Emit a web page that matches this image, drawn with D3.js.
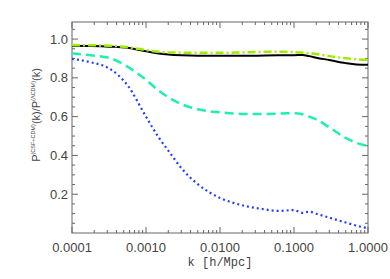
<!DOCTYPE html>
<style>
body { margin: 0; background: #fff; }
</style>
<svg width="390" height="279"></svg>
<script src="https://d3js.org/d3.v7.min.js"></script>
<script>

// k [h/Mpc] sample points shared by all curves
var kGrid = [1e-4, 1.8e-4, 3.2e-4, 5.6e-4, 1e-3, 1.5e-3, 2e-3, 3e-3, 5e-3, 1e-2, 2e-2, 4e-2,
             6e-2, 0.08, 0.1, 0.13, 0.16, 0.2, 0.3, 0.5, 0.7, 1.0];

var ratioSolid   = [0.965, 0.964, 0.961, 0.955, 0.937, 0.925, 0.920, 0.916, 0.914, 0.914, 0.914, 0.915,
                    0.916, 0.917, 0.917, 0.918, 0.912, 0.904, 0.892, 0.876, 0.869, 0.867];
var ratioDashDot = [0.969, 0.968, 0.966, 0.958, 0.943, 0.934, 0.931, 0.930, 0.929, 0.929, 0.931, 0.934,
                    0.934, 0.934, 0.933, 0.930, 0.927, 0.923, 0.912, 0.901, 0.896, 0.893];
var ratioDashed  = [0.926, 0.916, 0.903, 0.858, 0.790, 0.733, 0.700, 0.665, 0.638, 0.622, 0.614, 0.614,
                    0.615, 0.617, 0.617, 0.612, 0.600, 0.586, 0.545, 0.490, 0.465, 0.448];
var ratioDotted  = [0.898, 0.880, 0.848, 0.763, 0.600, 0.490, 0.425, 0.335, 0.252, 0.181, 0.143, 0.122,
                    0.114, 0.116, 0.118, 0.104, 0.110, 0.099, 0.079, 0.054, 0.038, 0.024];

var xTicks = [0.0001, 0.001, 0.01, 0.1, 1];
var yTicks = [0.2, 0.4, 0.6, 0.8, 1.0];

var svg = d3.select("svg"),
    margin = {top: 22, right: 22, bottom: 46, left: 72},
    width = +svg.attr("width") - margin.left - margin.right,
    height = +svg.attr("height") - margin.top - margin.bottom,
    g = svg.append("g").attr("transform", "translate(" + margin.left + "," + margin.top + ")");

var x = d3.scaleLog().domain([1e-4, 1]).range([0, width]);
var y = d3.scaleLinear().domain([0, 1.088]).range([height, 0]);

var axisColor = "#666";

// frame
g.append("rect")
    .attr("width", width)
    .attr("height", height)
    .attr("fill", "none")
    .attr("stroke", axisColor)
    .attr("stroke-width", 1);

// x ticks, bottom and top
var xMinor = [];
for (var e = -4; e < 0; e++)
  for (var m = 2; m <= 9; m++) xMinor.push(m * Math.pow(10, e));

[0, height].forEach(function(y0, side) {
  var dir = side === 0 ? 1 : -1;
  g.append("g").selectAll("line").data(xTicks).enter().append("line")
      .attr("x1", function(d) { return x(d); }).attr("x2", function(d) { return x(d); })
      .attr("y1", y0).attr("y2", y0 + dir * 6)
      .attr("stroke", axisColor);
  g.append("g").selectAll("line").data(xMinor).enter().append("line")
      .attr("x1", function(d) { return x(d); }).attr("x2", function(d) { return x(d); })
      .attr("y1", y0).attr("y2", y0 + dir * 3)
      .attr("stroke", axisColor);
});

// y ticks, left and right
var yMinor = d3.range(0.05, 1.08, 0.05).filter(function(v) { return Math.abs(v / 0.2 - Math.round(v / 0.2)) > 0.01; });

[0, width].forEach(function(x0, side) {
  var dir = side === 0 ? 1 : -1;
  g.append("g").selectAll("line").data(yTicks).enter().append("line")
      .attr("y1", function(d) { return y(d); }).attr("y2", function(d) { return y(d); })
      .attr("x1", x0).attr("x2", x0 + dir * 6)
      .attr("stroke", axisColor);
  g.append("g").selectAll("line").data(yMinor).enter().append("line")
      .attr("y1", function(d) { return y(d); }).attr("y2", function(d) { return y(d); })
      .attr("x1", x0).attr("x2", x0 + dir * 3)
      .attr("stroke", axisColor);
});

// tick labels
g.append("g")
    .attr("font-family", "Liberation Sans, Arial, sans-serif")
    .attr("font-size", 13)
    .attr("fill", "#444")
    .attr("text-anchor", "middle")
  .selectAll("text").data(xTicks).enter().append("text")
    .attr("x", function(d) { return x(d); })
    .attr("y", height + 19)
    .text(function(d) { return d3.format(".4f")(d); });

g.append("g")
    .attr("font-family", "Liberation Sans, Arial, sans-serif")
    .attr("font-size", 13)
    .attr("fill", "#444")
    .attr("text-anchor", "end")
  .selectAll("text").data(yTicks).enter().append("text")
    .attr("x", -4)
    .attr("y", function(d) { return y(d); })
    .attr("dy", "0.35em")
    .text(function(d) { return d3.format(".1f")(d); });

// axis titles
g.append("text")
    .attr("x", width / 2)
    .attr("y", height + 33)
    .attr("text-anchor", "middle")
    .attr("font-family", "Liberation Mono, monospace")
    .attr("font-size", 12)
    .attr("fill", "#444")
    .text("k [h/Mpc]");

var ylab = svg.append("text")
    .attr("transform", "translate(40," + 115 + ") rotate(-90)")
    .attr("text-anchor", "middle")
    .attr("font-family", "Liberation Sans, Arial, sans-serif")
    .attr("font-size", 11)
    .attr("fill", "#444");
ylab.append("tspan").text("P");
ylab.append("tspan").attr("font-size", 5.5).attr("dy", -5).text("(CSF+CDM)");
ylab.append("tspan").attr("dy", 5).text("(k)/P");
ylab.append("tspan").attr("font-size", 5.5).attr("dy", -5).text("(\u039BCDM)");
ylab.append("tspan").attr("dy", 5).text("(k)");

// curves
var series = [
  {values: ratioDotted,  color: "#2040ff", width: 2.2, dash: "2,3"},
  {values: ratioDashed,  color: "#1ff0b0", width: 2.5, dash: "9,5"},
  {values: ratioSolid,   color: "#000",    width: 2,   dash: null},
  {values: ratioDashDot, color: "#a0ec00", width: 2.5, dash: "8,3,2,3"}
];

var line = d3.line()
    .x(function(d, i) { return x(kGrid[i]); })
    .y(function(d) { return y(d); })
    .curve(d3.curveMonotoneX);

g.append("g").selectAll("path").data(series).enter().append("path")
    .attr("d", function(d) { return line(d.values); })
    .attr("fill", "none")
    .attr("stroke", function(d) { return d.color; })
    .attr("stroke-width", function(d) { return d.width; })
    .attr("stroke-dasharray", function(d) { return d.dash; });

</script>
